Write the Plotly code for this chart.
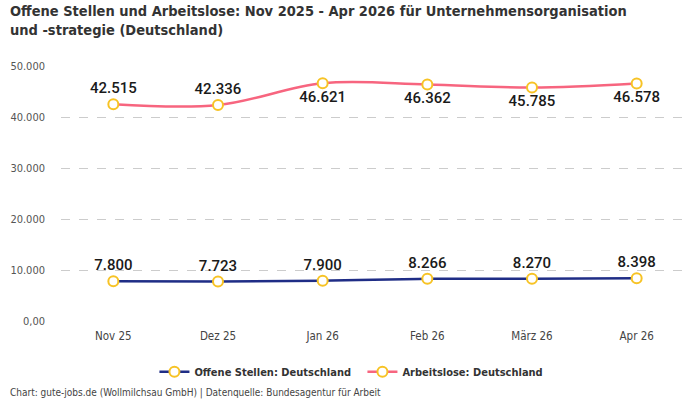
import plotly.graph_objects as go

months = ["Nov 25", "Dez 25", "Jan 26", "Feb 26", "März 26", "Apr 26"]
offene_stellen = [7800, 7723, 7900, 8266, 8270, 8398]
arbeitslose = [42515, 42336, 46621, 46362, 45785, 46578]
arbeitslose_pos = ["top center", "top center", "bottom center", "bottom center", "bottom center", "bottom center"]
y_ticks = [0, 10000, 20000, 30000, 40000, 50000]
y_tick_labels = ["0,00", "10.000", "20.000", "30.000", "40.000", "50.000"]

cond = "DejaVu Sans Condensed, Roboto, sans-serif"
plain = "Roboto, sans-serif"


def fmt(v):
    return f"{v:,}".replace(",", ".")


fig = go.Figure()
fig.add_trace(go.Scatter(
    x=months, y=offene_stellen, name="<b>Offene Stellen: Deutschland</b>",
    mode="lines+markers+text", text=[fmt(v) for v in offene_stellen],
    textposition="top center", textfont=dict(family=plain, size=15, color="#1a1a1a", weight=500),
    line=dict(color="#1f2d86", width=2.5, shape="spline"),
    marker=dict(size=10, color="white", line=dict(color="#f7c325", width=2)),
))
fig.add_trace(go.Scatter(
    x=months, y=arbeitslose, name="<b>Arbeitslose: Deutschland</b>",
    mode="lines+markers+text", text=[fmt(v) for v in arbeitslose],
    textposition=arbeitslose_pos, textfont=dict(family=plain, size=15, color="#1a1a1a", weight=500),
    line=dict(color="#f7657f", width=2.5, shape="spline"),
    marker=dict(size=10, color="white", line=dict(color="#f7c325", width=2)),
))

fig.update_layout(
    width=700, height=400,
    margin=dict(l=61, r=11, t=66, b=79),
    paper_bgcolor="white", plot_bgcolor="white",
    font=dict(family=cond, color="#444"),
    legend=dict(orientation="h", x=0.48, xanchor="center", y=-0.142, yanchor="top",
                entrywidth=163, entrywidthmode="pixels",
                font=dict(size=11, color="#333")),
    showlegend=True,
)
fig.update_xaxes(range=[-0.5, 5.5], showgrid=False, showline=False, ticks="", automargin=False,
                 tickfont=dict(size=11.5, color="#444"), ticklabelstandoff=6)
fig.update_yaxes(range=[0, 50000], tickvals=y_ticks, ticktext=y_tick_labels, automargin=False,
                 showgrid=True, gridcolor="#cccccc", griddash="dash", zeroline=False,
                 tickfont=dict(size=11, color="#555"), ticklabelstandoff=15)

fig.add_annotation(text="<b>Offene Stellen und Arbeitslose: Nov 2025 - Apr 2026 für Unternehmensorganisation<br>und -strategie (Deutschland)</b>",
                   xref="paper", yref="paper", x=-0.085, y=1.255, xanchor="left", yanchor="top",
                   align="left", showarrow=False, font=dict(size=14.5, color="#333"))
fig.add_annotation(text="Chart: gute-jobs.de (Wollmilchsau GmbH) | Datenquelle: Bundesagentur für Arbeit",
                   xref="paper", yref="paper", x=-0.085, y=-0.252, xanchor="left", yanchor="top",
                   showarrow=False, font=dict(size=10, color="#444"))

fig.write_html("out.html", config={"displayModeBar": False},
               post_script="document.body.style.margin = '0';")
